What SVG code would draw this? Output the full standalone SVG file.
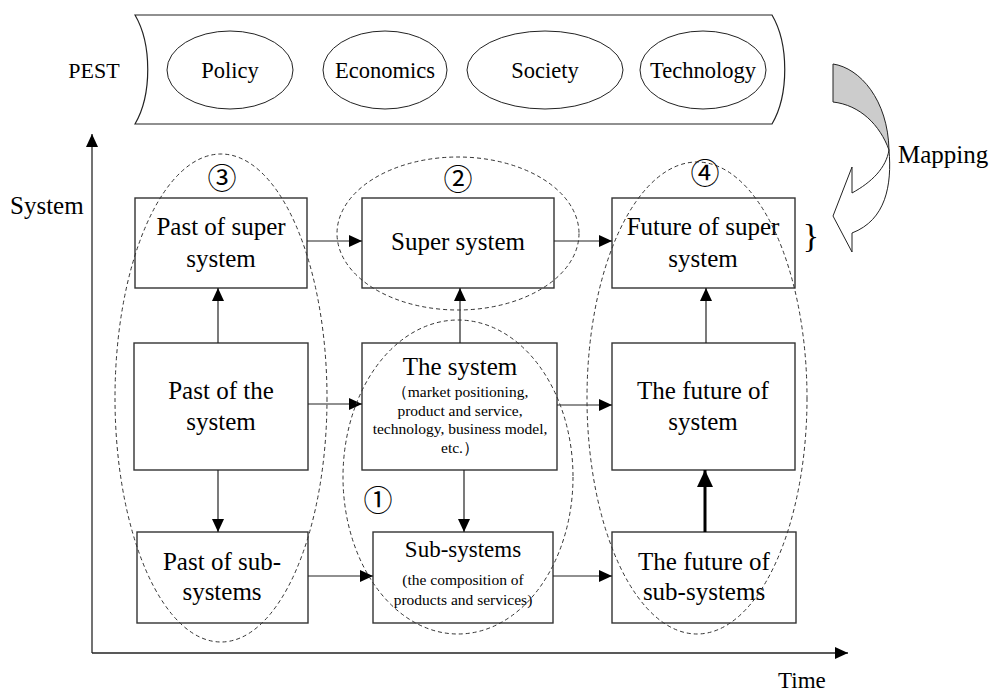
<svg xmlns="http://www.w3.org/2000/svg" width="992" height="693" viewBox="0 0 992 693">
<defs>
<style>
.t{font-family:"Liberation Serif","Times New Roman",serif;fill:#000;text-anchor:middle}
.big{font-size:25px}
.sm{font-size:15.5px}
.lbl{font-size:22.5px}
.box{fill:#fff;stroke:#333;stroke-width:1.4}
.ell{fill:none;stroke:#222;stroke-width:1}
.dash{fill:none;stroke:#333;stroke-width:1;stroke-dasharray:4 3}
.con{fill:none;stroke:#222;stroke-width:1.2}
.num{font-family:"Noto Sans CJK SC","DejaVu Sans",sans-serif;font-size:29px;text-anchor:middle;fill:#000}
</style>
<marker id="ah" markerUnits="userSpaceOnUse" markerWidth="13" markerHeight="12" refX="13" refY="6" orient="auto">
<path d="M0,0 L13,6 L0,12 Z" fill="#000"/>
</marker>
<marker id="ahb" markerUnits="userSpaceOnUse" markerWidth="17" markerHeight="16" refX="17" refY="8" orient="auto">
<path d="M0,0 L17,8 L0,16 Z" fill="#000"/>
</marker>
</defs>
<rect width="992" height="693" fill="#fff"/>

<g id="pest-banner">
<path d="M135,15 L772,15 C789,44 789,95 772,124 L135,124 C152,95 152,44 135,15 Z" fill="#fff" stroke="#222" stroke-width="1.2"/>
<text class="t" x="94" y="78" style="font-size:22px">PEST</text>
</g>
<g id="policy"><ellipse class="ell" cx="230" cy="70" rx="63" ry="39"/><text class="t lbl" x="230" y="78">Policy</text></g>
<g id="economics"><ellipse class="ell" cx="385" cy="70" rx="62" ry="39"/><text class="t lbl" x="385" y="78">Economics</text></g>
<g id="society"><ellipse class="ell" cx="545" cy="70" rx="78" ry="39"/><text class="t lbl" x="545" y="78">Society</text></g>
<g id="technology"><ellipse class="ell" cx="703" cy="70" rx="63" ry="39"/><text class="t lbl" x="703" y="78">Technology</text></g>

<g id="mapping">
<path d="M833,64 C860,68 888,100 889,150 C880,125 860,105 833,102 Z" fill="#cccccc" stroke="#222" stroke-width="1"/>
<path d="M889,150 C892,185 886,220 852,233 L852,252 L833,216 L852,167 L852,193 C872,182 886,168 889,150 Z" fill="#fff" stroke="#222" stroke-width="1"/>
<text class="t big" x="898" y="163" style="text-anchor:start">Mapping</text>
<text class="t" x="811" y="247" style="font-size:34px">}</text>
</g>

<g id="axes">
<line x1="92" y1="653" x2="92" y2="134" stroke="#444" stroke-width="1.5" marker-end="url(#ah)"/>
<line x1="92" y1="653" x2="848" y2="653" stroke="#222" stroke-width="1.5" marker-end="url(#ah)"/>
<text class="t big" x="10" y="214" style="text-anchor:start">System</text>
<text class="t" x="778" y="688" style="text-anchor:start;font-size:23px">Time</text>
</g>

<g id="past-super"><rect class="box" x="135" y="198" width="172" height="90"/><text class="t big" x="221" y="235">Past of super</text><text class="t big" x="221" y="267">system</text></g>
<g id="super"><rect class="box" x="362" y="198" width="192" height="90"/><text class="t big" x="458" y="250">Super system</text></g>
<g id="future-super"><rect class="box" x="612" y="198" width="183" height="90"/><text class="t big" x="703" y="235">Future of super</text><text class="t big" x="703" y="267">system</text></g>

<g id="past-system"><rect class="box" x="134" y="343" width="174" height="127"/><text class="t big" x="221" y="399">Past of the</text><text class="t big" x="221" y="430">system</text></g>
<g id="system"><rect class="box" x="362" y="343" width="195" height="127"/>
<text class="t big" x="460" y="375">The system</text>
<text class="t sm" x="460" y="397">（market positioning,</text>
<text class="t sm" x="460" y="416">product and service,</text>
<text class="t sm" x="460" y="434">technology, business model,</text>
<text class="t sm" x="460" y="453">etc.）</text>
</g>
<g id="future-system"><rect class="box" x="612" y="343" width="183" height="127"/><text class="t big" x="703" y="399">The future of</text><text class="t big" x="703" y="430">system</text></g>

<g id="past-sub"><rect class="box" x="137" y="532" width="171" height="91"/><text class="t big" x="222" y="570">Past of sub-</text><text class="t big" x="222" y="600">systems</text></g>
<g id="sub"><rect class="box" x="373" y="532" width="180" height="91"/>
<text class="t" x="463" y="557" style="font-size:23px">Sub-systems</text>
<text class="t sm" x="463" y="585">(the composition of</text>
<text class="t sm" x="463" y="605">products and services)</text>
</g>
<g id="future-sub"><rect class="box" x="612" y="532" width="184" height="91"/><text class="t big" x="704" y="570">The future of</text><text class="t big" x="704" y="600">sub-systems</text></g>

<g id="connectors">
<line class="con" x1="307" y1="241" x2="362" y2="241" marker-end="url(#ah)"/>
<line class="con" x1="554" y1="241" x2="612" y2="241" marker-end="url(#ah)"/>
<line class="con" x1="218" y1="343" x2="218" y2="288" marker-end="url(#ah)"/>
<line class="con" x1="460" y1="343" x2="460" y2="288" marker-end="url(#ah)"/>
<line class="con" x1="706" y1="343" x2="706" y2="288" marker-end="url(#ah)"/>
<line class="con" x1="308" y1="404" x2="362" y2="404" marker-end="url(#ah)"/>
<line class="con" x1="557" y1="405" x2="612" y2="405" marker-end="url(#ah)"/>
<line class="con" x1="218" y1="470" x2="218" y2="532" marker-end="url(#ah)"/>
<line class="con" x1="464" y1="470" x2="464" y2="532" marker-end="url(#ah)"/>
<line class="con" x1="308" y1="576" x2="373" y2="576" marker-end="url(#ah)"/>
<line class="con" x1="553" y1="576" x2="612" y2="576" marker-end="url(#ah)"/>
<line x1="705" y1="532" x2="705" y2="470" stroke="#000" stroke-width="3" marker-end="url(#ahb)"/>
</g>

<g id="groups">
<ellipse class="dash" cx="221" cy="398" rx="106" ry="244"/>
<ellipse class="dash" cx="458" cy="233.5" rx="121" ry="76.5"/>
<ellipse class="dash" cx="458" cy="477" rx="115" ry="157"/>
<ellipse class="dash" cx="697" cy="398" rx="110" ry="236"/>
<text class="num" x="222" y="189">③</text>
<text class="num" x="458" y="190">②</text>
<text class="num" x="705" y="184">④</text>
<text class="num" x="378" y="511">①</text>
</g>
</svg>
